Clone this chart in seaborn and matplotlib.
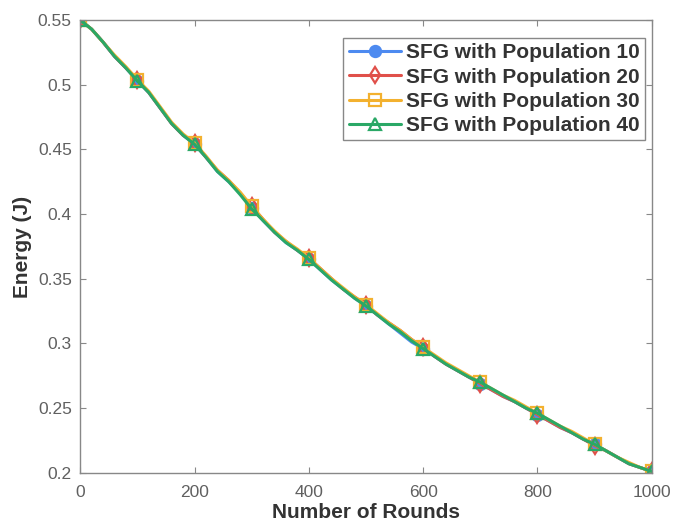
import numpy as np
import pandas as pd
import matplotlib
matplotlib.use('Agg')
import matplotlib.pyplot as plt
from matplotlib.ticker import FuncFormatter
import seaborn as sns

rounds = list(range(0, 1001, 20))

pop10 = [0.550, 0.543, 0.533, 0.522, 0.513, 0.503, 0.494, 0.482, 0.470, 0.461,
         0.454, 0.444, 0.433, 0.425, 0.416, 0.405, 0.395, 0.386, 0.378, 0.372,
         0.365, 0.357, 0.349, 0.342, 0.335, 0.329, 0.322, 0.315, 0.308, 0.301,
         0.296, 0.290, 0.284, 0.279, 0.274, 0.269, 0.264, 0.259, 0.255, 0.250,
         0.245, 0.240, 0.235, 0.231, 0.226, 0.222, 0.217, 0.212, 0.207, 0.204,
         0.201]
pop20 = [0.550, 0.543, 0.533, 0.522, 0.513, 0.504, 0.494, 0.482, 0.470, 0.461,
         0.455, 0.444, 0.434, 0.426, 0.416, 0.406, 0.396, 0.386, 0.379, 0.372,
         0.366, 0.358, 0.350, 0.342, 0.336, 0.330, 0.322, 0.316, 0.310, 0.303,
         0.297, 0.290, 0.284, 0.279, 0.274, 0.269, 0.264, 0.259, 0.255, 0.250,
         0.245, 0.240, 0.235, 0.231, 0.226, 0.221, 0.217, 0.212, 0.207, 0.204,
         0.201]
pop30 = [0.550, 0.543, 0.533, 0.523, 0.514, 0.504, 0.495, 0.483, 0.471, 0.462,
         0.455, 0.445, 0.434, 0.426, 0.417, 0.406, 0.396, 0.387, 0.379, 0.373,
         0.366, 0.358, 0.350, 0.343, 0.336, 0.330, 0.323, 0.316, 0.310, 0.303,
         0.297, 0.291, 0.285, 0.280, 0.275, 0.270, 0.265, 0.260, 0.256, 0.251,
         0.246, 0.241, 0.236, 0.232, 0.227, 0.222, 0.217, 0.212, 0.208, 0.204,
         0.201]
pop40 = [0.550, 0.543, 0.533, 0.522, 0.513, 0.503, 0.494, 0.482, 0.470, 0.461,
         0.454, 0.444, 0.433, 0.425, 0.415, 0.404, 0.395, 0.386, 0.378, 0.372,
         0.365, 0.357, 0.349, 0.342, 0.335, 0.329, 0.322, 0.315, 0.309, 0.302,
         0.296, 0.290, 0.284, 0.279, 0.274, 0.270, 0.265, 0.260, 0.255, 0.250,
         0.246, 0.241, 0.236, 0.231, 0.226, 0.222, 0.217, 0.212, 0.207, 0.204,
         0.201]

labels = ['SFG with Population 10', 'SFG with Population 20',
          'SFG with Population 30', 'SFG with Population 40']
colors = ['#4d8af0', '#e0504a', '#f3b12f', '#2aa866']
markers = ['o', 'd', 's', '^']

df = pd.DataFrame({'rounds': rounds * 4,
                   'energy': pop10 + pop20 + pop30 + pop40,
                   'series': sum([[l] * len(rounds) for l in labels], [])})

sns.set_style('ticks')
plt.rcParams['font.family'] = ['Liberation Sans', 'DejaVu Sans']

fig = plt.figure(figsize=(6.74, 5.30), dpi=100)
ax = fig.add_axes([0.119, 0.108, 0.848, 0.854])

for lab, c, m in zip(labels, colors, markers):
    sub = df[df['series'] == lab]
    filled = c if m == 'o' else 'none'
    sns.lineplot(data=sub, x='rounds', y='energy', ax=ax, color=c, lw=2.2,
                 marker=m, markersize=8, markevery=5, markerfacecolor=filled,
                 markeredgecolor=c, markeredgewidth=1.6, label=lab)

ax.set_xlim(0, 1000)
ax.set_ylim(0.2, 0.55)
ax.set_xticks(np.arange(0, 1001, 200))
ax.set_yticks(np.arange(0.2, 0.551, 0.05))
ax.yaxis.set_major_formatter(FuncFormatter(lambda v, p: '{:g}'.format(round(v, 2))))
ax.tick_params(direction='in', top=True, right=True, length=4, width=0.8,
               colors='#888888', labelcolor='#606060', labelsize=12.5)
ax.tick_params(axis='x', pad=9)
ax.tick_params(axis='y', pad=6)
for s in ax.spines.values():
    s.set_color('#888888')
    s.set_linewidth(1.0)

ax.set_xlabel('Number of Rounds', fontsize=15, fontweight='bold', color='#333333', labelpad=2)
ax.set_ylabel('Energy (J)', fontsize=15, fontweight='bold', color='#333333', labelpad=4)

leg = ax.legend(loc='upper right', bbox_to_anchor=(0.988, 0.960), borderaxespad=0,
                fontsize=15, frameon=True, fancybox=False, framealpha=1,
                edgecolor='#888888', handlelength=2.5, labelspacing=0.25,
                borderpad=0.25, handletextpad=0.25)
leg.get_frame().set_linewidth(1.0)
for t in leg.get_texts():
    t.set_fontweight('bold')
    t.set_color('#333333')

fig.savefig('out.png', dpi=100)
